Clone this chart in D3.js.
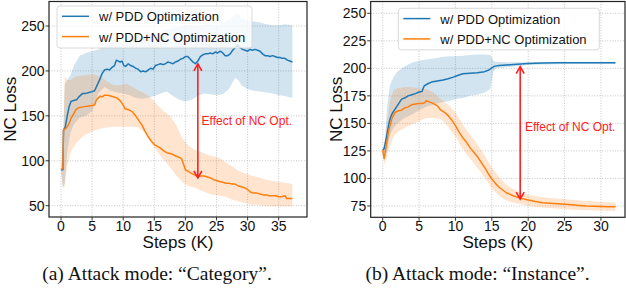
<!DOCTYPE html>
<html><head><meta charset="utf-8">
<script src="https://cdn.jsdelivr.net/npm/d3@7"></script>
<style>html,body{margin:0;padding:0;background:#fff;}svg{display:block;}</style>
</head><body><svg id="c" width="626" height="289"></svg>
<script>
// ---------- DATA ----------
const seriesNames = ["w/ PDD Optimization", "w/ PDD+NC Optimization"];
const captions = ["(a) Attack mode: \u201cCategory\u201d.", "(b) Attack mode: \u201cInstance\u201d."];
const annotationText = "Effect of NC Opt.";

// Panel (a) Category
const catPddSteps = [0,0.3,0.4,0.7,1.0,1.3,1.6,2.0,2.5,3.0,3.5,4.0,4.5,5.0,5.4,5.8,6.2,6.6,7.0,7.4,7.8,8.2,8.6,8.9,9.2,9.5,9.8,10.1,10.4,10.8,11.2,11.6,12.0,12.4,12.8,13.2,13.6,14.0,14.4,14.8,15.2,15.6,16.0,16.4,16.8,17.2,17.6,18.0,18.4,18.8,19.2,19.6,20.0,20.4,20.8,21.2,21.6,22.0,22.4,22.8,23.2,23.6,24.0,24.4,24.8,25.2,25.6,26.0,26.4,26.8,27.2,27.6,28.0,28.4,28.8,29.2,29.6,30.0,30.4,30.8,31.2,31.6,32.0,32.4,32.8,33.2,33.6,34.0,34.4,34.8,35.2,35.6,36.0,36.4,36.8,37.2];
const catPddMean = [90,90,134,138,150,160,166,167,168,172,175,175,176,177,178,184,190,197,201,202,201,204,206,212,211,210,211,206,205,208,206,205,203,202,199,200,199,201,203,202,206,207,208,207,208,210,209,208,210,211,213,214,216,216,213,210,208,211,216,218,219,219,220,219,221,220,222,220,217,217,219,223,226,229,226,224,223,222,224,223,224,223,222,219,217,217,216,217,216,215,215,214,214,212,211,210];
const catPddBandSteps = [0,0.3,0.6,1,1.5,2,3,4,5,6,7,8,9,10,11,12,13,14,15,16,17,18,19,20,21,22,23,24,25,26,27,28,28.5,29,30,31,32,33,34,35,36,37.2];
const catPddLow  = [90,70,75,110,130,140,148,150,155,175,182,178,176,175,173,170,169,170,172,175,177,172,168,166,168,172,175,174,173,174,180,192,190,184,180,178,177,176,175,173,172,170];
const catPddHigh = [90,110,185,190,195,205,217,220,222,224,228,232,234,236,235,236,238,240,241,243,246,248,249,251,251,250,252,252,251,253,257,262,264,258,256,255,254,252,251,251,252,251];

const catNcSteps = [0,0.3,0.4,0.8,1.2,1.6,2.0,2.4,2.8,3.5,4.5,5.4,5.7,6.0,6.3,6.6,7.0,7.5,8.0,8.5,9.0,9.5,10.0,10.3,10.8,11.4,12.0,12.5,13.0,13.5,14.0,14.5,15.0,15.5,16.0,16.5,17.0,17.5,18.0,18.5,19.0,19.4,19.7,20.0,20.5,21.0,21.5,22.0,22.5,23.0,23.5,24.0,24.5,25.0,25.5,26.0,26.5,27.0,27.5,28.0,28.5,29.0,29.5,30.0,30.5,31.0,31.5,32.0,32.5,33.0,33.5,34.0,34.5,35.0,35.5,36.0,36.3,36.8,37.2];
const catNcMean = [90,92,134,136,140,147,152,157,159,160,161,162,168,170,172,171,173,173,172,171,170,167,162,158,157,155,150,145,140,133,127,122,118,116,114,111,109,108,107,105,104,102,96,90,88,86,84,83,83,83,82,81,79,78,77,76,75,75,74,74,72,71,70,68,65,64,64,63,62,62,61,61,61,60,60,61,58,58,58];
const catNcBandSteps = [0,0.3,0.6,1,1.5,2,2.5,3.5,4.5,5.5,6.5,7.5,8.5,9.5,10.5,11.5,12.5,13.5,14.5,15.5,16.5,17.5,18.5,19.5,20.5,21.5,22.5,23.5,24.5,25.5,26.5,27.5,28.5,29.5,30.5,31.5,32.5,33.5,34.5,35.5,37.2];
const catNcLow  = [90,70,72,95,108,115,120,127,131,134,136,137,138,138,138,138,137,131,120,110,101,93,84,76,72,70,67,64,62,61,60,57,55,53,51,51,50,50,49,49,49];
const catNcHigh = [90,120,195,190,190,192,194,195,196,196,193,188,184,184,186,182,178,175,170,162,155,150,140,125,117,112,110,107,105,103,98,94,89,86,84,82,80,78,77,76,74];

// Panel (b) Instance
const insPddSteps = [0,0.2,0.5,0.8,1.0,1.3,1.7,2.2,2.6,3.0,3.5,4.0,4.5,5.0,5.4,5.7,6.2,6.7,7.5,8.3,9.0,9.7,10.3,11.0,12.0,13.0,14.0,14.6,15.0,15.4,16.0,17.0,18.0,19.0,20.0,22.0,24.0,26.0,28.0,30.0,32.0];
const insPddMean = [126,127,137,148,154,159,163,168,172,173,175,176,177,178.5,179,184,186,187.5,188.5,189.5,190.5,192,193.5,195,195.5,196,197,198.5,200.5,202,202.5,203,203.5,204,204.3,204.8,205,205,205.1,205,205];
const insPddBandSteps = [0,0.3,0.6,1,1.5,2,3,4,5,6,7,8,9,10,11,12,13,14,14.8,15.2,15.6,17,20,25,32];
const insPddLow  = [126,118,125,140,146,150,155,158,162,165,167,169,170,172,173,175,176,178,181,197,200,201,203,204,204];
const insPddHigh = [126,135,165,185,192,197,202,205,207,208,209,210,211,211,211.5,212,212.5,212.5,212,207,206,205.5,205.5,206,206];

const insNcSteps = [0,0.2,0.5,0.8,1.0,1.3,1.7,2.2,2.6,3.0,3.5,4.0,4.5,5.0,5.5,5.8,6.0,6.4,7.0,7.5,8.0,8.5,9.0,9.5,10.0,10.5,11.0,11.5,12.0,12.5,13.0,13.5,14.0,14.5,15.0,15.5,16.0,16.5,17.0,17.5,18.0,19.0,20.0,21.0,22.0,23.0,24.0,25.0,26.0,27.0,28.0,29.0,30.0,31.0,32.0];
const insNcMean = [126,118,130,142,148,155,160,161.5,162,164,165,167,167.5,168,168,169,170.5,169.5,168,166,162,160,157,153,148,142,137,133,128,124,120,115,110,104.5,99.5,95.5,92,89.5,87,85.5,84,82,80.5,79,78,77.5,77,76.5,76,75.5,75,74.7,74.5,74.3,74.3];
const insNcBandSteps = [0,0.2,0.5,1,1.5,2,3,4,5,6,7,8,9,10,11,12,13,14,15,16,17,18,19,20,22,25,28,32];
const insNcLow  = [126,112,118,130,138,142,146,149,152,155,155,154,147,138,127,118,110,101,91,84,80,78,76.5,75,73.5,72,71,70.5];
const insNcHigh = [126,125,145,170,180,182,183,183,182,181,178,172,167,160,149,140,131,121,110,101,94,90,87,85,83,81,79.5,78];

// ticks
const catXTicks = [0,5,10,15,20,25,30,35];
const catYTicks = [50,100,150,200,250];
const insXTicks = [0,5,10,15,20,25,30];
const insYTicks = [75,100,125,150,175,200,225,250];

// arrows [step, top value, bottom value], label [step, value]
const catArrow = [22.0, 207.8, 81];
const catLabel = [22.6, 139.5];
const insArrow = [18.9, 201.5, 81.3];
const insLabel = [19.55, 143.4];

// ---------- DRAW ----------
const svg = d3.select("#c");
const BLUE = "#1f77b4", ORANGE = "#ff7f0e", RED = "#ff2020";
const SANS = "'Liberation Sans', Arial, sans-serif";
const SERIF = "'Liberation Serif', 'Times New Roman', serif";

const defs = svg.append("defs");

function panel(cfg) {
  const x = d3.scaleLinear().domain(cfg.xDom).range([cfg.left, cfg.right]);
  const y = d3.scaleLinear().domain(cfg.yDom).range([cfg.bottom, cfg.top]);
  const g = svg.append("g");
  const clipId = "clip" + cfg.id;
  defs.append("clipPath").attr("id", clipId).append("rect")
    .attr("x", cfg.left).attr("y", cfg.top).attr("width", cfg.right - cfg.left).attr("height", cfg.bottom - cfg.top);

  // grid
  const grid = g.append("g");
  grid.selectAll(".gx").data(cfg.xTicks).join("line")
    .attr("x1", d => x(d)).attr("x2", d => x(d)).attr("y1", cfg.top).attr("y2", cfg.bottom)
    .attr("stroke", "#b8b8b8").attr("stroke-width", 0.8).attr("stroke-dasharray", "1,1.6");
  grid.selectAll(".gy").data(cfg.yTicks).join("line")
    .attr("y1", d => y(d)).attr("y2", d => y(d)).attr("x1", cfg.left).attr("x2", cfg.right)
    .attr("stroke", "#b8b8b8").attr("stroke-width", 0.8).attr("stroke-dasharray", "1,1.6");

  const plot = g.append("g").attr("clip-path", `url(#${clipId})`);
  const area = (steps, lo, hi) => d3.area().x((d, i) => x(steps[i])).y0((d, i) => y(lo[i])).y1((d, i) => y(hi[i]))(steps);
  const line = (steps, v) => d3.line().x((d, i) => x(steps[i])).y((d, i) => y(v[i]))(steps);

  plot.append("path").attr("d", area(cfg.pddBS, cfg.pddLo, cfg.pddHi)).attr("fill", BLUE).attr("fill-opacity", 0.2);
  plot.append("path").attr("d", area(cfg.ncBS, cfg.ncLo, cfg.ncHi)).attr("fill", ORANGE).attr("fill-opacity", 0.2);
  plot.append("path").attr("d", line(cfg.pddS, cfg.pddM)).attr("fill", "none").attr("stroke", BLUE).attr("stroke-width", 1.5).attr("stroke-linejoin", "round");
  plot.append("path").attr("d", line(cfg.ncS, cfg.ncM)).attr("fill", "none").attr("stroke", ORANGE).attr("stroke-width", 1.5).attr("stroke-linejoin", "round");

  // arrow
  const ax = x(cfg.arrow[0]), ay1 = y(cfg.arrow[1]), ay2 = y(cfg.arrow[2]);
  const ag = g.append("g").attr("stroke", RED).attr("stroke-width", 1.6).attr("fill", "none");
  ag.append("line").attr("x1", ax).attr("x2", ax).attr("y1", ay1).attr("y2", ay2);
  ag.append("path").attr("d", `M${ax - 4},${ay1 + 7}L${ax},${ay1}L${ax + 4},${ay1 + 7}`);
  ag.append("path").attr("d", `M${ax - 4},${ay2 - 7}L${ax},${ay2}L${ax + 4},${ay2 - 7}`);
  g.append("text").attr("x", x(cfg.label[0])).attr("y", y(cfg.label[1]))
    .attr("fill", RED).attr("font-family", SANS).attr("font-size", 12).text(annotationText);

  // frame
  g.append("rect").attr("x", cfg.left).attr("y", cfg.top).attr("width", cfg.right - cfg.left).attr("height", cfg.bottom - cfg.top)
    .attr("fill", "none").attr("stroke", "#222").attr("stroke-width", 1.2);

  // tick marks
  g.selectAll(".xtm").data(cfg.xTicks).join("line")
    .attr("x1", d => x(d)).attr("x2", d => x(d)).attr("y1", cfg.bottom).attr("y2", cfg.bottom + 3.5)
    .attr("stroke", "#222").attr("stroke-width", 0.9);
  g.selectAll(".ytm").data(cfg.yTicks).join("line")
    .attr("y1", d => y(d)).attr("y2", d => y(d)).attr("x1", cfg.left - 3.5).attr("x2", cfg.left)
    .attr("stroke", "#222").attr("stroke-width", 0.9);

  // tick labels
  g.selectAll(".xt").data(cfg.xTicks).join("text")
    .attr("x", d => x(d)).attr("y", cfg.bottom + 13.5).attr("text-anchor", "middle")
    .attr("font-family", SANS).attr("font-size", 14).attr("fill", "#111").text(d => d);
  g.selectAll(".yt").data(cfg.yTicks).join("text")
    .attr("x", cfg.left - 4.5).attr("y", d => y(d) + 5).attr("text-anchor", "end")
    .attr("font-family", SANS).attr("font-size", 14).attr("fill", "#111").text(d => d);

  // axis labels
  g.append("text").attr("x", (cfg.left + cfg.right) / 2 + cfg.xlabDx).attr("y", cfg.bottom + 30.5).attr("text-anchor", "middle")
    .attr("font-family", SANS).attr("font-size", 17).attr("fill", "#111").text("Steps (K)");
  g.append("text").attr("transform", `translate(${cfg.ylabX},${(cfg.top + cfg.bottom) / 2}) rotate(-90)`).attr("text-anchor", "middle")
    .attr("font-family", SANS).attr("font-size", 17).attr("fill", "#111").text("NC Loss");

  // legend
  const L = cfg.legend;
  g.append("rect").attr("x", L.x).attr("y", L.y).attr("width", L.w).attr("height", L.h).attr("rx", 3)
    .attr("fill", "#fff").attr("fill-opacity", 0.8).attr("stroke", "#d0d0d0").attr("stroke-width", 0.8);
  [BLUE, ORANGE].forEach((c, i) => {
    const ly = L.y + 10.3 + i * 20.3;
    g.append("line").attr("x1", L.x + 5).attr("x2", L.x + 32).attr("y1", ly).attr("y2", ly).attr("stroke", c).attr("stroke-width", 1.5);
    g.append("text").attr("x", L.x + 42).attr("y", ly + 5).attr("font-family", SANS).attr("font-size", 13).attr("fill", "#111").text(seriesNames[i]);
  });

  // caption
  svg.append("text").attr("x", cfg.capX).attr("y", 280).attr("text-anchor", "middle")
    .attr("font-family", SERIF).attr("font-size", 19.5).attr("fill", "#111").text(cfg.caption);
}

panel({
  id: "a", left: 49, right: 307, top: 1.5, bottom: 217,
  xDom: [-1.93, 39.55], yDom: [37.4, 277.3],
  xTicks: catXTicks, yTicks: catYTicks,
  pddS: catPddSteps, pddM: catPddMean, pddBS: catPddBandSteps, pddLo: catPddLow, pddHi: catPddHigh,
  ncS: catNcSteps, ncM: catNcMean, ncBS: catNcBandSteps, ncLo: catNcLow, ncHi: catNcHigh,
  arrow: catArrow, label: catLabel, xlabDx: 0, ylabX: 16,
  legend: {x: 57, y: 6, w: 195, h: 42}, caption: captions[0], capX: 157
});
panel({
  id: "b", left: 370.7, right: 625, top: 1.5, bottom: 217.3,
  xDom: [-1.65, 33.31], yDom: [64.7, 260.7],
  xTicks: insXTicks, yTicks: insYTicks,
  pddS: insPddSteps, pddM: insPddMean, pddBS: insPddBandSteps, pddLo: insPddLow, pddHi: insPddHigh,
  ncS: insNcSteps, ncM: insNcMean, ncBS: insNcBandSteps, ncLo: insNcLow, ncHi: insNcHigh,
  arrow: insArrow, label: insLabel, xlabDx: 0, ylabX: 342,
  legend: {x: 398.3, y: 8.3, w: 201, h: 41.5}, caption: captions[1], capX: 477.5
});
</script></body></html>
